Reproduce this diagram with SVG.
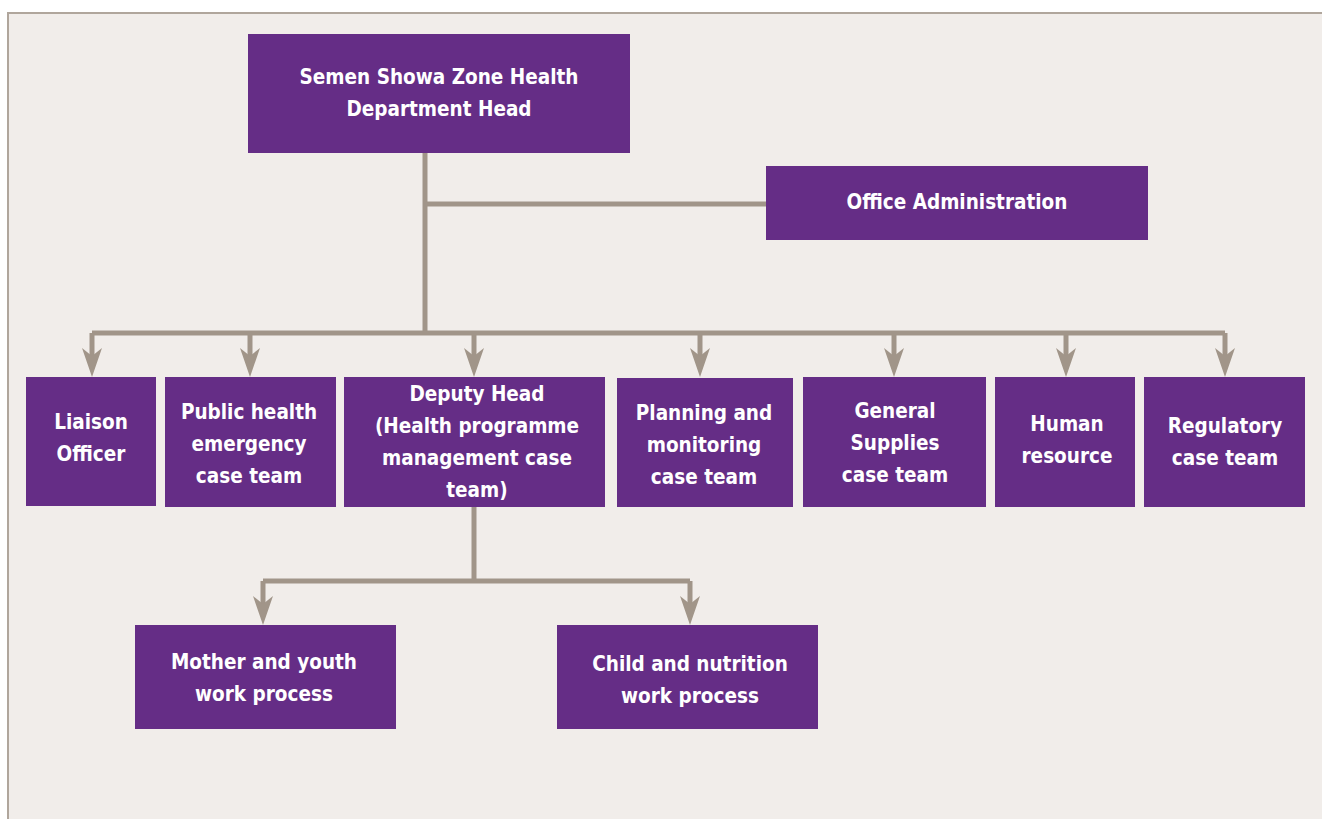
<svg xmlns="http://www.w3.org/2000/svg" width="1322" height="819" viewBox="0 0 1322 819">
<style>
.box{fill:#652d86}
.t{fill:#ffffff;font-family:"Liberation Sans Narrow","DejaVu Sans Condensed","Liberation Sans",sans-serif;font-weight:bold;font-size:20.5px;text-anchor:middle}
.c{fill:none;stroke:#a19589;stroke-width:5}
.a{fill:#a19589}
</style>
<defs>
<path id="ah" d="M0,0 L-10,-29 L0,-21 L10,-29 Z"/>
</defs>
<rect x="0" y="0" width="1322" height="819" fill="#ffffff"/>
<rect x="8" y="13" width="1320" height="820" fill="#f1edea" stroke="#b0a69c" stroke-width="2"/>
<g id="connectors">
<path class="c" d="M425,153 V333 M425,204 H766 M92,333 H1225 M92,333 V360 M250,333 V360 M474,333 V360 M700,333 V360 M894,333 V360 M1066,333 V360 M1225,333 V360 M474,507 V581 M263,581 H690 M263,581 V608 M690,581 V608"/>
<g class="a">
<use href="#ah" x="92" y="377"/>
<use href="#ah" x="250" y="377"/>
<use href="#ah" x="474" y="377"/>
<use href="#ah" x="700" y="377"/>
<use href="#ah" x="894" y="377"/>
<use href="#ah" x="1066" y="377"/>
<use href="#ah" x="1225" y="377"/>
<use href="#ah" x="263" y="625"/>
<use href="#ah" x="690" y="625"/>
</g>
</g>
<g id="head"><rect class="box" x="248" y="34" width="382" height="119"/>
<text class="t" x="439" y="84">Semen Showa Zone Health</text><text class="t" x="439" y="116">Department Head</text></g>
<g id="office"><rect class="box" x="766" y="166" width="382" height="74"/>
<text class="t" x="957" y="209">Office Administration</text></g>
<g id="liaison"><rect class="box" x="26" y="377" width="130" height="129"/>
<text class="t" x="91" y="429">Liaison</text><text class="t" x="91" y="461">Officer</text></g>
<g id="public"><rect class="box" x="165" y="377" width="171" height="130"/>
<text class="t" x="249" y="419">Public health</text><text class="t" x="249" y="451">emergency</text><text class="t" x="249" y="483">case team</text></g>
<g id="deputy"><rect class="box" x="344" y="377" width="261" height="130"/>
<text class="t" x="477" y="401">Deputy Head</text><text class="t" x="477" y="433">(Health programme</text><text class="t" x="477" y="465">management case</text><text class="t" x="477" y="497">team)</text></g>
<g id="planning"><rect class="box" x="617" y="378" width="176" height="129"/>
<text class="t" x="704" y="420">Planning and</text><text class="t" x="704" y="452">monitoring</text><text class="t" x="704" y="484">case team</text></g>
<g id="supplies"><rect class="box" x="803" y="377" width="183" height="130"/>
<text class="t" x="895" y="418">General</text><text class="t" x="895" y="450">Supplies</text><text class="t" x="895" y="482">case team</text></g>
<g id="hr"><rect class="box" x="995" y="377" width="140" height="130"/>
<text class="t" x="1067" y="431">Human</text><text class="t" x="1067" y="463">resource</text></g>
<g id="regulatory"><rect class="box" x="1144" y="377" width="161" height="130"/>
<text class="t" x="1225" y="433">Regulatory</text><text class="t" x="1225" y="465">case team</text></g>
<g id="mother"><rect class="box" x="135" y="625" width="261" height="104"/>
<text class="t" x="264" y="669">Mother and youth</text><text class="t" x="264" y="701">work process</text></g>
<g id="child"><rect class="box" x="557" y="625" width="261" height="104"/>
<text class="t" x="690" y="671">Child and nutrition</text><text class="t" x="690" y="703">work process</text></g>
</svg>
